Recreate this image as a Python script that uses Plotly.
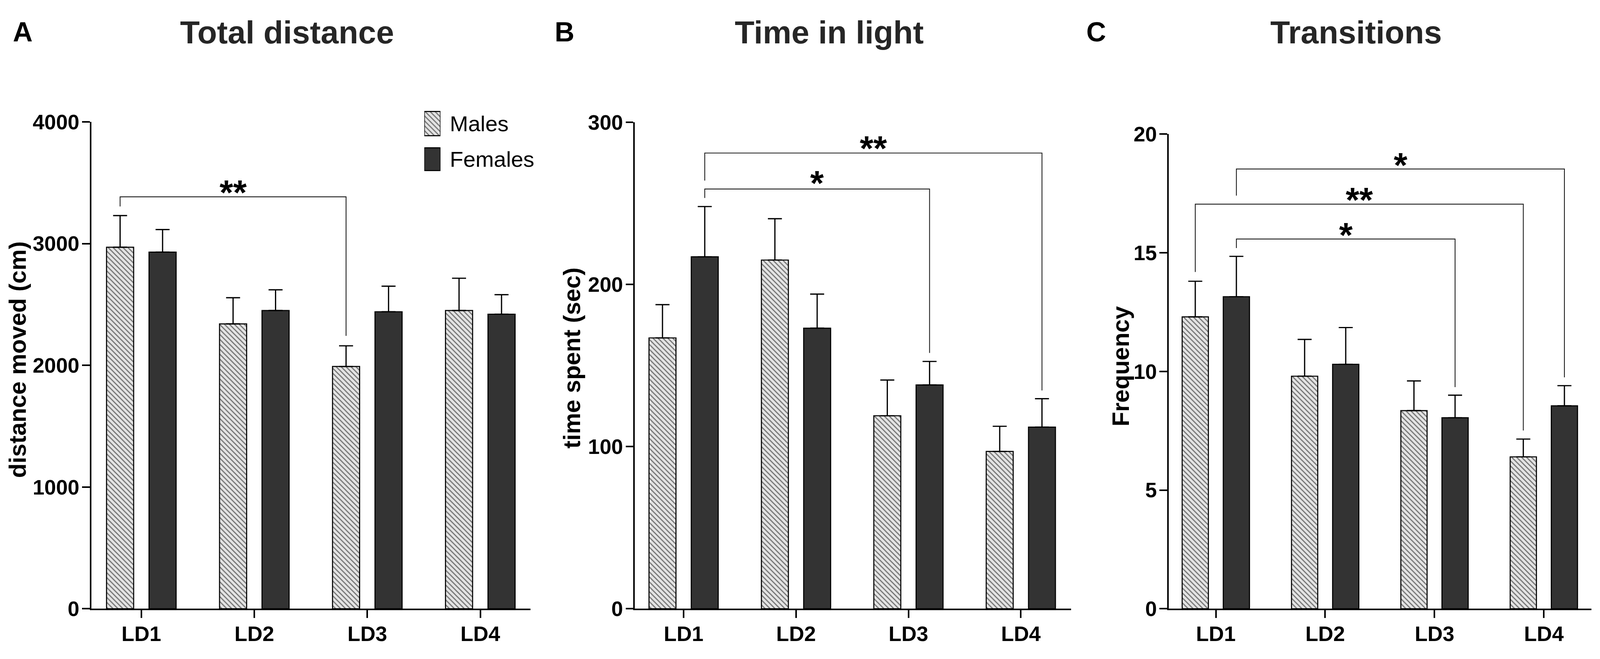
import plotly.graph_objects as go

# reference is 4550 x 1687; the page viewport is narrower, so the figure is drawn
# a little smaller and every pixel size below is scaled by S
REF_W, REF_H = 4550, 1687
W, H = 4075, 1670
S = W / REF_W

sessions = ["LD1", "LD2", "LD3", "LD4"]

# A - total distance (cm), mean and SEM (upper bar only)
dist_males = [2970, 2340, 1990, 2450]
dist_males_err = [260, 215, 170, 265]
dist_females = [2930, 2450, 2440, 2420]
dist_females_err = [185, 170, 210, 160]

# B - time spent in light (sec)
light_males = [167, 215, 119, 97]
light_males_err = [20.5, 25.5, 22, 15.5]
light_females = [217, 173, 138, 112]
light_females_err = [31, 21, 14.5, 17.5]

# C - transitions (frequency)
trans_males = [12.3, 9.8, 8.35, 6.4]
trans_males_err = [1.5, 1.55, 1.25, 0.75]
trans_females = [13.15, 10.3, 8.05, 8.55]
trans_females_err = [1.7, 1.55, 0.95, 0.85]

# significance brackets: (group, session from, session to, top, left end, right end, label, label y)
sig_dist = [("M", 0, 2, 3384, 3305, 2242, "**", 3492)]
sig_light = [("F", 0, 3, 281, 264, 134.6, "**", 289.2),
             ("F", 0, 2, 258.8, 253.3, 157.7, "*", 267.7)]
sig_trans = [("F", 0, 3, 18.53, 17.41, 9.75, "*", 19.06),
             ("M", 0, 3, 17.05, 14.19, 7.51, "**", 17.59),
             ("F", 0, 2, 15.58, 15.2, 9.34, "*", 16.11)]

legend_names = ["Males", "Females"]

FONT = "Liberation Sans, Arial, Helvetica, sans-serif"
OFF = 0.188      # bar offset from the session centre
BW = 0.24        # bar width
MALE_BG = "#e4e4e4"
FEMALE = "#333333"


def px_x(p):
    return p / REF_W


def px_y(p):
    return 1 - p / REF_H


def sz(v):
    return v * S


fig = go.Figure()

panels = [
    (dist_males, dist_males_err, dist_females, dist_females_err, sig_dist, "x", "y"),
    (light_males, light_males_err, light_females, light_females_err, sig_light, "x2", "y2"),
    (trans_males, trans_males_err, trans_females, trans_females_err, sig_trans, "x3", "y3"),
]

hatch = dict(shape="\\", fgcolor="black", bgcolor=MALE_BG, size=sz(10), solidity=0.32)

for m, me, f, fe, sig, xa, ya in panels:
    xs = list(range(len(sessions)))
    fig.add_trace(go.Bar(
        x=[i - OFF for i in xs], y=m, width=BW, xaxis=xa, yaxis=ya,
        marker=dict(color=MALE_BG, line=dict(color="black", width=sz(3)), pattern=hatch),
        error_y=dict(type="data", symmetric=False, array=me, arrayminus=[0] * len(m),
                     width=sz(20), thickness=sz(3.5), color="black"),
        showlegend=False))
    fig.add_trace(go.Bar(
        x=[i + OFF for i in xs], y=f, width=BW, xaxis=xa, yaxis=ya,
        marker=dict(color=FEMALE, line=dict(color="black", width=sz(3))),
        error_y=dict(type="data", symmetric=False, array=fe, arrayminus=[0] * len(f),
                     width=sz(20), thickness=sz(3.5), color="black"),
        showlegend=False))
    for grp, a, b, top, lend, rend, lab, laby in sig:
        sgn = -1 if grp == "M" else 1
        xl, xr = a + sgn * OFF, b + sgn * OFF
        fig.add_trace(go.Scatter(
            x=[xl, xl, xr, xr], y=[lend, top, top, rend], mode="lines",
            line=dict(color="#1a1a1a", width=sz(2.4)), xaxis=xa, yaxis=ya,
            showlegend=False, hoverinfo="skip"))
        fig.add_annotation(x=(xl + xr) / 2, y=laby, xref=xa, yref=ya, text=lab,
                           showarrow=False, xanchor="center", yanchor="middle",
                           yshift=-sz(24),
                           font=dict(family=FONT, size=sz(100), color="black", weight="bold"))

# legend drawn as a tiny bar subplot so the hatch pattern matches
fig.add_trace(go.Bar(
    x=[1], y=[legend_names[0]], orientation="h", width=0.68, xaxis="x4", yaxis="y4",
    marker=dict(color=MALE_BG, line=dict(color="black", width=sz(3)), pattern=hatch),
    showlegend=False, hoverinfo="skip"))
fig.add_trace(go.Bar(
    x=[1], y=[legend_names[1]], orientation="h", width=0.64, xaxis="x4", yaxis="y4",
    marker=dict(color=FEMALE, line=dict(color="black", width=sz(3))),
    showlegend=False, hoverinfo="skip"))

tickfont = dict(family=FONT, size=sz(60), color="black", weight="bold")
axis_common = dict(showline=True, linewidth=sz(4.5), linecolor="black", ticks="outside",
                   ticklen=sz(22), tickwidth=sz(4.5), tickcolor="black", tickfont=tickfont,
                   showgrid=False, zeroline=False, fixedrange=True)

ybottom = px_y(1593)
xdefs = [((252, 1507), (-0.443, 3.443)), ((1806, 3053), (-0.433, 3.448)), ((3332, 4540), (-0.43, 3.435))]
ydefs = [(287, (0, 4000), 1000), (288, (0, 300), 100), (320, (0, 20), 5)]

layout_axes = {}
for k, ((x0, x1), xr), (ytop, yr, dt) in zip(range(3), xdefs, ydefs):
    sfx = "" if k == 0 else str(k + 1)
    layout_axes["xaxis" + sfx] = dict(axis_common, domain=[px_x(x0), px_x(x1)], range=list(xr),
                                      tickvals=list(range(len(sessions))), ticktext=sessions,
                                      ticklabelstandoff=-5, anchor="y" + sfx)
    layout_axes["yaxis" + sfx] = dict(axis_common, domain=[ybottom, px_y(ytop)], range=list(yr),
                                      dtick=dt, ticklabelstandoff=-4, anchor="x" + sfx)

layout_axes["xaxis4"] = dict(domain=[px_x(1204), px_x(1250)], range=[0, 1], visible=False,
                             fixedrange=True, anchor="y4")
layout_axes["yaxis4"] = dict(domain=[px_y(435), px_y(244)], range=[-0.5, 1.5], type="category",
                             categoryarray=legend_names[::-1], side="right", anchor="x4",
                             showline=False, ticks="", showgrid=False, zeroline=False,
                             ticklabelstandoff=int(round(sz(26))), fixedrange=True,
                             tickfont=dict(family=FONT, size=sz(63), color="black"))

fig.update_layout(**layout_axes)

# panel letters and titles
for lab, cx in [("A", 56), ("B", 1605), ("C", 3124)]:
    fig.add_annotation(x=px_x(cx), y=px_y(46), xref="paper", yref="paper", text=lab,
                       showarrow=False, xanchor="center", yanchor="middle",
                       font=dict(family=FONT, size=sz(78), color="black", weight="bold"))
for lab, cx in [("Total distance", 812), ("Time in light", 2362), ("Transitions", 3867)]:
    fig.add_annotation(x=px_x(cx), y=px_y(46), xref="paper", yref="paper", text=lab,
                       showarrow=False, xanchor="center", yanchor="middle",
                       font=dict(family=FONT, size=sz(92), color="#262626", weight="bold"))

# y axis titles
for lab, cx, cy in [("distance moved (cm)", 41, 925), ("time spent (sec)", 1626, 920),
                    ("Frequency", 3194, 943)]:
    fig.add_annotation(x=px_x(cx), y=px_y(cy), xref="paper", yref="paper", text=lab,
                       showarrow=False, textangle=-90, xanchor="center", yanchor="middle",
                       font=dict(family=FONT, size=sz(68), color="black", weight="bold"))

fig.update_layout(width=W, height=H, margin=dict(l=0, r=0, t=0, b=0),
                  paper_bgcolor="white", plot_bgcolor="white", barmode="overlay",
                  showlegend=False)

fig.write_html("out.html")
